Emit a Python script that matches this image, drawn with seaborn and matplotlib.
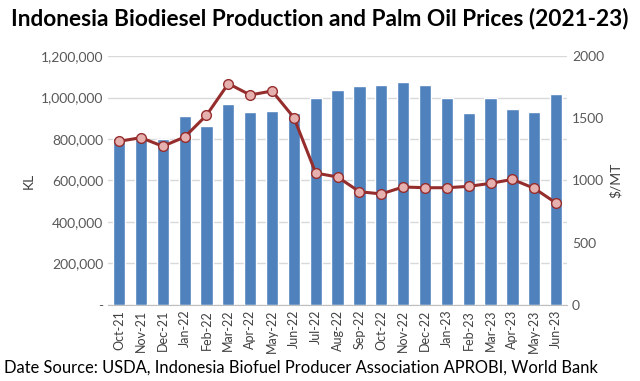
import numpy as np
import pandas as pd
import matplotlib
matplotlib.use("Agg")
import matplotlib.pyplot as plt
import seaborn as sns
from matplotlib.ticker import FuncFormatter

months = ["Oct-21", "Nov-21", "Dec-21", "Jan-22", "Feb-22", "Mar-22", "Apr-22",
          "May-22", "Jun-22", "Jul-22", "Aug-22", "Sep-22", "Oct-22", "Nov-22",
          "Dec-22", "Jan-23", "Feb-23", "Mar-23", "Apr-23", "May-23", "Jun-23"]
production_kl = [806000, 800000, 800000, 909000, 862000, 969000, 932000,
                 935000, 925000, 996000, 1037000, 1057000, 1062000, 1076000,
                 1062000, 999000, 925000, 999000, 943000, 930000, 1017000]
palm_price = [1315, 1344, 1275, 1349, 1524, 1778, 1687, 1719, 1505, 1060,
              1028, 910, 892, 948, 942, 942, 953, 977, 1009, 937, 819]

sns.set_style("white")
plt.rcParams['font.family'] = ['Lato', 'DejaVu Sans']

df = pd.DataFrame({'Month': months, 'KL': production_kl, 'Price': palm_price})
df['pos'] = np.arange(len(df))

fig = plt.figure(figsize=(6.4, 3.81), dpi=100)
ax = fig.add_axes([0.169, 0.1995, 0.717, 0.6535])

sns.barplot(data=df, x='Month', y='KL', color='#4F81BD', saturation=1,
            width=0.56, ax=ax)
ax.set_ylim(0, 1200000)
ax.set_yticks(np.arange(0, 1200001, 200000))
ax.yaxis.set_major_formatter(FuncFormatter(lambda v, p: '-' if v == 0 else f'{int(v):,}'))
ax.grid(axis='y', color='#D9D9D9', linewidth=1)
ax.set_axisbelow(True)
ax.set_xlabel('')
ax.set_ylabel('KL', fontsize=10, color='#404040')
ax.tick_params(axis='y', length=0, labelsize=10, labelcolor='#595959')
ax.tick_params(axis='x', length=0, labelsize=9, labelcolor='#404040', rotation=90)
ax.set_xticks(np.arange(-0.5, len(df), 1), minor=True)
ax.tick_params(axis='x', which='minor', length=4, color='#BFBFBF')
ax.set_xlim(-0.5, len(df) - 0.5)
for s in ['left', 'right', 'top']:
    ax.spines[s].set_visible(False)
ax.spines['bottom'].set_color('#BFBFBF')

ax2 = ax.twinx()
sns.lineplot(data=df, x='pos', y='Price', color='#962D2D', linewidth=2.2,
             marker='o', markersize=7, markerfacecolor='#E6B0AE',
             markeredgecolor='#962D2D', markeredgewidth=1, ax=ax2)
ax2.set_ylim(0, 2000)
ax2.set_yticks(np.arange(0, 2001, 500))
ax2.set_ylabel('$/MT', fontsize=10, color='#404040')
ax2.tick_params(axis='y', length=0, labelsize=10, labelcolor='#595959')
for s in ['left', 'right', 'top', 'bottom']:
    ax2.spines[s].set_visible(False)
ax2.set_xlim(-0.5, len(df) - 0.5)

fig.text(0.5, 0.952, 'Indonesia Biodiesel Production and Palm Oil Prices (2021-23)',
         ha='center', va='center', fontsize=16.3, fontweight='bold', color='black')
fig.text(0.007, 0.035, 'Date Source: USDA, Indonesia Biofuel Producer Association APROBI, World Bank',
         ha='left', va='center', fontsize=11.9, color='black')

fig.savefig('out.png', dpi=100)
